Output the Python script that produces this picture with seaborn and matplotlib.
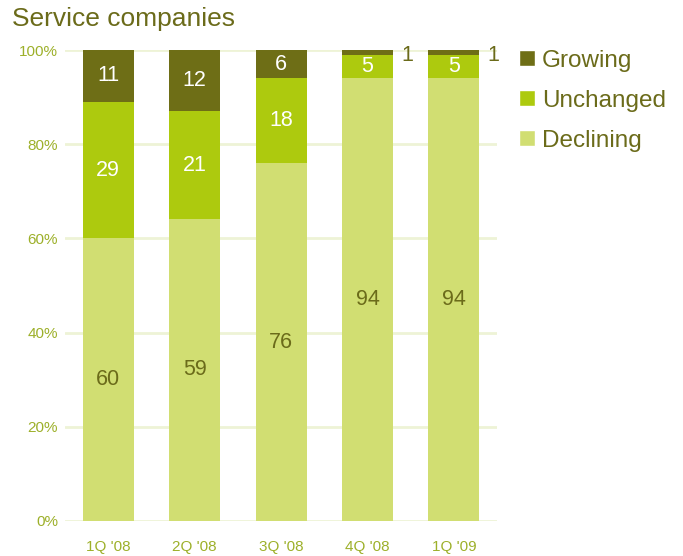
import numpy as np
import pandas as pd
import matplotlib
matplotlib.use("Agg")
import matplotlib.pyplot as plt
from matplotlib.patches import Patch
import seaborn as sns

quarters = ["1Q '08", "2Q '08", "3Q '08", "4Q '08", "1Q '09"]
declining = [60, 59, 76, 94, 94]
unchanged = [29, 21, 18, 5, 5]
growing = [11, 12, 6, 1, 1]

c_grow = "#6E6E16"
c_unch = "#ADCA0E"
c_decl = "#D1DE72"
c_text = "#6B6B1A"
c_tick = "#9DB02A"
c_grid = "#EEF3D6"

sns.set_theme(style="white")
plt.rcParams["font.family"] = ["Liberation Sans", "DejaVu Sans"]

# shares of each answer within a quarter (rows may not sum to exactly 100)
df = pd.DataFrame({"quarter": quarters, "Declining": declining,
                   "Unchanged": unchanged, "Growing": growing})
tot = df[["Declining", "Unchanged", "Growing"]].sum(axis=1)
df["d_pct"] = df["Declining"] / tot * 100
df["u_top"] = (df["Declining"] + df["Unchanged"]) / tot * 100
df["g_top"] = 100.0 * tot / tot

fig = plt.figure(figsize=(6.83, 5.56), dpi=100)
ax = fig.add_axes([0.095, 0.063, 0.633, 0.847])

# stacked bars drawn as cumulative layers, tallest first
for col, color in [("g_top", c_grow), ("u_top", c_unch), ("d_pct", c_decl)]:
    sns.barplot(data=df, x="quarter", y=col, color=color, width=0.59,
                saturation=1, ax=ax, zorder=3, linewidth=0)

ax.set_xlim(-0.5, 4.5)
ax.set_ylim(0, 100)
ax.set_yticks(np.arange(0, 101, 20))
ax.set_yticklabels([f"{v}%" for v in range(0, 101, 20)])
ax.yaxis.grid(True, color=c_grid, linewidth=2, zorder=0)
ax.xaxis.grid(False)
for s in ax.spines.values():
    s.set_visible(False)
ax.set_xlabel("")
ax.set_ylabel("")
ax.tick_params(axis="both", length=0, labelsize=11, labelcolor=c_tick)
ax.tick_params(axis="x", pad=14)
ax.tick_params(axis="y", pad=5)

# segment value labels
fs = 15.5
for i, row in df.iterrows():
    d, u, g = row["d_pct"], row["u_top"], row["g_top"]
    ax.text(i, d / 2, f"{row['Declining']}", ha="center", va="center",
            color=c_text, fontsize=fs, zorder=5)
    ax.text(i, (d + u) / 2, f"{row['Unchanged']}", ha="center", va="center",
            color="white", fontsize=fs, zorder=5)
    if g - u >= 4:
        ax.text(i, (u + g) / 2, f"{row['Growing']}", ha="center", va="center",
                color="white", fontsize=fs, zorder=5)
    else:
        ax.text(i + 0.39, g - 1.1, f"{row['Growing']}", ha="left", va="center",
                color=c_text, fontsize=fs, zorder=5, clip_on=False)

fig.text(0.018, 0.966, "Service companies", fontsize=19, color=c_text,
         ha="left", va="center")

handles = [Patch(facecolor=c_grow, label="Growing"),
           Patch(facecolor=c_unch, label="Unchanged"),
           Patch(facecolor=c_decl, label="Declining")]
leg = fig.legend(handles=handles, loc="upper left", bbox_to_anchor=(0.745, 0.928),
                 frameon=False, fontsize=17.5, handlelength=0.67, handleheight=0.67,
                 handletextpad=0.3, labelspacing=0.74, borderaxespad=0)
for t in leg.get_texts():
    t.set_color(c_text)

fig.savefig("out.png", dpi=100)
